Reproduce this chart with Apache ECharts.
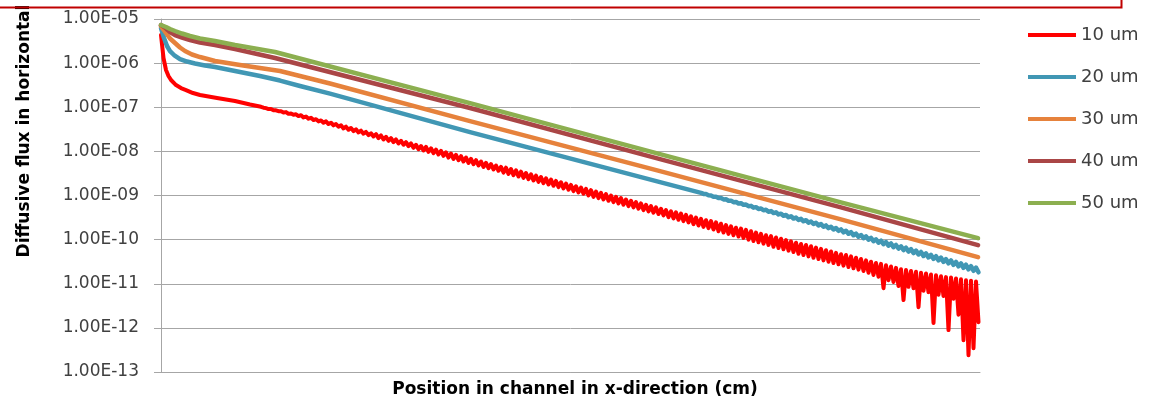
<!DOCTYPE html>
<html>
<head>
<meta charset="utf-8">
<script src="https://cdn.jsdelivr.net/npm/echarts@6/dist/echarts.min.js"></script>
<style>
  html, body { margin: 0; padding: 0; background: #ffffff; }
  #chart { width: 1151px; height: 405px; }
</style>
</head>
<body>
<div id="chart"></div>
<script>
// Legend labels (channel width)
const seriesNames = ['10 um', '20 um', '30 um', '40 um', '50 um'];

// Y tick labels, one per decade from 1e-13 to 1e-5
const yTickLabels = ['1.00E-13', '1.00E-12', '1.00E-11', '1.00E-10', '1.00E-09',
                     '1.00E-08', '1.00E-07', '1.00E-06', '1.00E-05'];
const yMinExp = -13;

// Flux values are stored as log10(flux); positions are in cm along the channel.
const pos50um = [0, 0.02, 0.05, 0.09, 0.14, 0.21, 0.29, 0.39, 0.54, 0.74, 0.94, 1.14, 3.09, 4.99, 6.79, 8.17];
const log50um = [-5.136, -5.147, -5.181, -5.227, -5.272, -5.329, -5.385, -5.442, -5.499, -5.590, -5.669, -5.748,
                 -6.905, -8.061, -9.150, -9.966];

const pos40um = [0, 0.02, 0.05, 0.09, 0.14, 0.21, 0.29, 0.39, 0.54, 0.74, 0.94, 1.14, 3.09, 4.99, 6.79, 8.17];
const log40um = [-5.136, -5.159, -5.215, -5.295, -5.363, -5.420, -5.476, -5.533, -5.590, -5.680, -5.782, -5.884,
                 -7.018, -8.175, -9.263, -10.125];

const pos30um = [0, 0.02, 0.05, 0.09, 0.14, 0.19, 0.24, 0.31, 0.39, 0.54, 0.79, 0.99, 1.19, 1.39, 1.69,
                 3.09, 4.99, 6.79, 8.17];
const log30um = [-5.159, -5.227, -5.317, -5.442, -5.544, -5.646, -5.726, -5.805, -5.862, -5.952, -6.043, -6.111,
                 -6.179, -6.293, -6.463, -7.313, -8.447, -9.535, -10.397];

// 20 um: smooth part, then every mesh node near the outlet (slight oscillation)
const pos20umHead = [0, 0.03, 0.06, 0.09, 0.13, 0.19, 0.26, 0.34, 0.44, 0.54, 0.79, 0.99, 1.19, 1.39, 1.69,
                     3.09, 4.99];
const log20umHead = [-5.204, -5.431, -5.612, -5.726, -5.816, -5.907, -5.964, -6.009, -6.054, -6.088, -6.202, -6.293,
                     -6.395, -6.519, -6.690, -7.562, -8.696];
const meshStart20um = 5.4;
const meshStep20um = 0.025;
const log20umMesh = [
  -8.939,-8.964,-8.968,-8.995,-8.999,-9.027,-9.028,-9.058,-9.057,-9.088,-9.086,-9.119,-9.117,-9.151,-9.146,-9.181,
  -9.175,-9.212,-9.205,-9.243,-9.235,-9.275,-9.264,-9.305,-9.293,-9.336,-9.323,-9.367,-9.353,-9.399,-9.382,-9.429,
  -9.412,-9.460,-9.441,-9.492,-9.471,-9.522,-9.500,-9.553,-9.530,-9.584,-9.559,-9.616,-9.589,-9.646,-9.618,-9.677,
  -9.648,-9.708,-9.678,-9.739,-9.707,-9.770,-9.737,-9.801,-9.767,-9.834,-9.799,-9.867,-9.830,-9.901,-9.863,-9.935,
  -9.895,-9.968,-9.927,-10.001,-9.960,-10.035,-9.992,-10.069,-10.024,-10.102,-10.055,-10.136,-10.088,-10.170,-10.120,-10.203,
  -10.152,-10.236,-10.184,-10.270,-10.216,-10.304,-10.248,-10.337,-10.280,-10.371,-10.313,-10.404,-10.345,-10.438,-10.377,-10.471,
  -10.408,-10.505,-10.441,-10.539,-10.473,-10.571,-10.505,-10.605,-10.538,-10.639,-10.569,-10.673,-10.601,-10.706,-10.633,-10.740
];

// 10 um: smooth entrance region, then every mesh node (oscillating solution)
const pos10umHead = [0, 0.025, 0.05, 0.075, 0.10, 0.15, 0.20, 0.25, 0.32, 0.39, 0.56, 0.74, 0.89];
const log10umHead = [-5.363, -5.884, -6.156, -6.293, -6.383, -6.497, -6.565, -6.610, -6.678, -6.723, -6.791, -6.859, -6.939];
const meshStart10um = 1.0;
const meshStep10um = 0.025;
const log10umMesh = [
  -6.99,-7.01,-7.02,-7.04,-7.04,-7.07,-7.07,-7.09,-7.09,-7.12,-7.11,-7.15,-7.14,-7.17,-7.16,-7.20,
  -7.18,-7.23,-7.21,-7.26,-7.24,-7.29,-7.27,-7.32,-7.30,-7.35,-7.32,-7.38,-7.35,-7.41,-7.38,-7.44,
  -7.41,-7.48,-7.44,-7.51,-7.47,-7.54,-7.50,-7.57,-7.53,-7.60,-7.56,-7.63,-7.59,-7.66,-7.61,-7.70,
  -7.64,-7.73,-7.67,-7.76,-7.70,-7.79,-7.73,-7.82,-7.76,-7.85,-7.79,-7.88,-7.82,-7.92,-7.85,-7.95,
  -7.88,-7.98,-7.90,-8.01,-7.93,-8.04,-7.96,-8.07,-7.99,-8.10,-8.02,-8.14,-8.05,-8.17,-8.08,-8.20,
  -8.11,-8.23,-8.14,-8.26,-8.17,
  -8.29,-8.20,-8.32,-8.23,-8.35,-8.26,-8.38,-8.29,-8.41,-8.32,-8.44,-8.35,-8.48,-8.37,-8.51,-8.40,
  -8.54,-8.43,-8.57,-8.46,-8.60,-8.49,-8.63,-8.52,-8.66,-8.55,-8.69,-8.58,-8.72,-8.61,-8.75,-8.64,
  -8.78,-8.67,-8.81,-8.70,-8.84,-8.73,-8.87,-8.76,-8.90,-8.79,-8.93,-8.82,-8.96,-8.85,-9.00,-8.88,
  -9.03,-8.91,-9.06,-8.94,-9.09,-8.97,-9.12,-9.00,-9.15,-9.03,-9.18,-9.06,-9.21,-9.09,-9.24,-9.12,
  -9.27,-9.15,-9.30,-9.18,-9.33,-9.21,-9.36,-9.24,-9.39,-9.27,-9.42,-9.30,
  -9.45,-9.33,-9.49,-9.36,-9.52,-9.38,-9.55,-9.41,-9.58,-9.44,-9.61,-9.47,-9.65,-9.50,-9.68,-9.53,
  -9.71,-9.56,-9.74,-9.58,-9.77,-9.61,-9.81,-9.64,-9.84,-9.67,-9.87,-9.70,-9.90,-9.73,-9.93,-9.75,
  -9.96,-9.78,-10.00,-9.81,-10.03,-9.84,-10.06,-9.87,-10.09,-9.90,-10.12,-9.92,-10.16,-9.95,-10.19,-9.98,
  -10.22,-10.01,-10.25,-10.04,-10.28,-10.07,-10.32,-10.10,-10.35,-10.12,-10.38,-10.15,-10.41,-10.18,-10.44,-10.21,
  -10.47,-10.24,-10.50,-10.27,-10.53,-10.30,-10.56,-10.33,-10.59,-10.35,-10.62,-10.38,-10.65,-10.41,-10.68,-10.44,
  -10.71,-10.47,-10.75,-10.50,-10.80,-10.53,-10.84,-10.55,-11.10,-10.58,-10.92,-10.61,-10.96,-10.64,-11.05,-10.67,
  -11.37,-10.69,-11.07,-10.71,-11.10,-10.73,-11.53,-10.75,-11.16,-10.77,-11.19,-10.79,-11.89,-10.81,-11.25,-10.83,
  -11.28,-10.85,-12.05,-10.86,-11.34,-10.88,-11.70,-10.90,-12.28,-10.92,-12.62,-10.93,-12.46,-10.95,-11.87
];

const seriesColors = ['#FF0000', '#4197B4', '#E6823C', '#AA4646', '#8CAF50'];

function pairs(xs, logs) {
  return xs.map((x, i) => [x, Math.pow(10, logs[i])]);
}

function meshPairs(start, step, logs) {
  return logs.map((v, i) => [start + i * step, Math.pow(10, v)]);
}

const seriesData = [
  pairs(pos10umHead, log10umHead).concat(meshPairs(meshStart10um, meshStep10um, log10umMesh)),
  pairs(pos20umHead, log20umHead).concat(meshPairs(meshStart20um, meshStep20um, log20umMesh)),
  pairs(pos30um, log30um),
  pairs(pos40um, log40um),
  pairs(pos50um, log50um)
];

const FONT = 'DejaVu Sans';
const GRID_GREY = '#A6A6A6';

const chart = echarts.init(document.getElementById('chart'), null, { renderer: 'canvas' });

chart.setOption({
  backgroundColor: '#ffffff',
  animation: false,
  grid: { left: 161, right: 171, top: 19, bottom: 33, containLabel: false },
  legend: {
    orient: 'vertical',
    left: 1028,
    top: 25,
    padding: 0,
    icon: 'rect',
    itemWidth: 48,
    itemHeight: 4,
    itemGap: 22,
    data: seriesNames,
    textStyle: { fontFamily: FONT, fontSize: 18, lineHeight: 20, color: '#404040' }
  },
  xAxis: {
    type: 'value',
    min: 0,
    max: 8.19,
    axisLine: { show: true, lineStyle: { color: GRID_GREY, width: 1 } },
    axisTick: { show: false },
    axisLabel: { show: false },
    splitLine: { show: false }
  },
  yAxis: {
    type: 'log',
    logBase: 10,
    min: 1e-13,
    max: 1e-5,
    splitNumber: 8,
    axisLine: { show: true, lineStyle: { color: GRID_GREY, width: 1 } },
    axisTick: { show: true, inside: false, length: 7, lineStyle: { color: GRID_GREY } },
    splitLine: { show: true, lineStyle: { color: GRID_GREY, width: 1 } },
    axisLabel: {
      margin: 22,
      fontFamily: FONT,
      fontSize: 17,
      color: '#404040',
      formatter: function (v) {
        const e = Math.round(Math.log10(v));
        return yTickLabels[e - yMinExp] || '';
      }
    }
  },
  series: seriesNames.map((name, i) => ({
    name: name,
    type: 'line',
    data: seriesData[i],
    symbol: 'none',
    smooth: false,
    lineStyle: { width: i === 0 ? 4 : 4.5, color: seriesColors[i], join: 'round', cap: 'round' },
    itemStyle: { color: seriesColors[i] },
    z: 2 + i
  })),
  graphic: [
    {
      type: 'text',
      x: 25,
      y: 131,
      rotation: Math.PI / 2,
      style: {
        text: 'Diffusive flux in horizontal',
        fontFamily: FONT,
        fontWeight: 'bold',
        fontSize: 17,
        fill: '#000000',
        textAlign: 'center',
        textVerticalAlign: 'middle'
      }
    },
    {
      type: 'text',
      x: 575,
      y: 390,
      style: {
        text: 'Position in channel in x-direction (cm)',
        fontFamily: FONT,
        fontWeight: 'bold',
        fontSize: 17,
        fill: '#000000',
        textAlign: 'center',
        textVerticalAlign: 'middle'
      }
    },
    {
      type: 'polyline',
      shape: { points: [[-2, 7.5], [1121.5, 7.5], [1121.5, -2]] },
      style: { stroke: '#C00000', lineWidth: 2, fill: null }
    }
  ]
});
</script>
</body>
</html>
